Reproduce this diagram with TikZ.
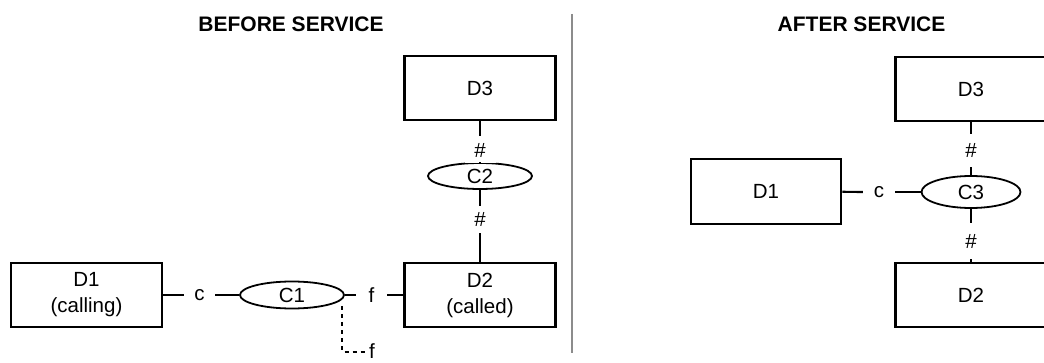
\documentclass[tikz,border=0pt]{standalone}
\usepackage{fontspec}
\setmainfont{Liberation Sans}
\usetikzlibrary{positioning, shapes.geometric}
\definecolor{ruleGray}{RGB}{140,140,140}

\begin{document}
\begin{tikzpicture}[
    x=1pt, y=-1pt,
    device/.style={rectangle, draw, line width=2.5pt, minimum width=151pt,
                   minimum height=64pt, inner sep=0pt, align=center,
                   font=\fontsize{20.5}{26}\selectfont},
    ctrl/.style={ellipse, draw, line width=1.8pt, minimum width=104pt,
                 minimum height=27pt, inner sep=0pt,
                 font=\fontsize{20.5}{26}\selectfont},
    link/.style={line width=2.2pt},
    tag/.style={fill=white, inner sep=0pt, minimum width=31pt,
                minimum height=27pt, font=\fontsize{20.5}{26}\selectfont},
    mylabel/.style={font=\fontsize{21}{25}\selectfont\bfseries},
  ]
    \useasboundingbox (0,0) rectangle (1044,363);

    % Before service
    \node[mylabel] (BEF_T) at (291,24) {BEFORE SERVICE};
    \node[device] (BD1) at (86.5,295) {D1\\(calling)};
    \node[ctrl] (C1) at (292,295) {C1};
    \node[device] (BD2) at (480,295) {D2\\(called)};
    \node[device] (BD3) at (480,88) {D3};
    \node[ctrl, minimum height=26pt] (C2) at (480,176) {C2};
    \node[tag] (BC) at (199.5,295) {c};
    \node[tag] (BF) at (371.5,295) {f};
    \node[tag] (BH1) at (480,150) {\#};
    \node[tag] (BH2) at (480,219.5) {\#};
    \draw[link] (BD1) -- (BC);
    \draw[link] (BC) -- (C1);
    \draw[link] (C1) -- (BF);
    \draw[link] (BF) -- (BD2);
    \draw[link] (BD3) -- (BH1);
    \draw[link] (BH1) -- (C2);
    \draw[link] (C2) -- (BH2);
    \draw[link] (BH2) -- (BD2);

    % Tap to second f
    \coordinate (TAP) at (342,306);
    \node[font=\fontsize{20.5}{26}\selectfont, inner xsep=4pt, inner ysep=0pt]
         (FOUT) at (372,351.5) {f};
    \draw[line width=2pt, dash pattern=on 4pt off 4pt] (TAP) |- (FOUT);

    % Divider
    \draw[line width=2pt, ruleGray] (572,14) -- (572,353);

    % After service
    \node[mylabel] (AFT_T) at (861.5,24) {AFTER SERVICE};
    \node[device] (AD3) at (971,89) {D3};
    \node[device, minimum width=150pt, minimum height=65pt] (AD1) at (766,191.5) {D1};
    \node[ctrl, minimum width=99pt, minimum height=32pt] (C3) at (971,192) {C3};
    \node[device] (AD2) at (971,295) {D2};
    \node[tag, minimum width=32pt] (AC) at (879,192) {c};
    \node[tag, minimum height=33pt] (AH1) at (971,150.5) {\#};
    \node[tag, minimum height=36pt] (AH2) at (971,241) {\#};
    \draw[link] (AD1) -- (AC);
    \draw[link] (AC) -- (C3);
    \draw[link] (AD3) -- (AH1);
    \draw[link] (AH1) -- (C3);
    \draw[link] (C3) -- (AH2);
    \draw[link] (AH2) -- (AD2);
\end{tikzpicture}
\end{document}
